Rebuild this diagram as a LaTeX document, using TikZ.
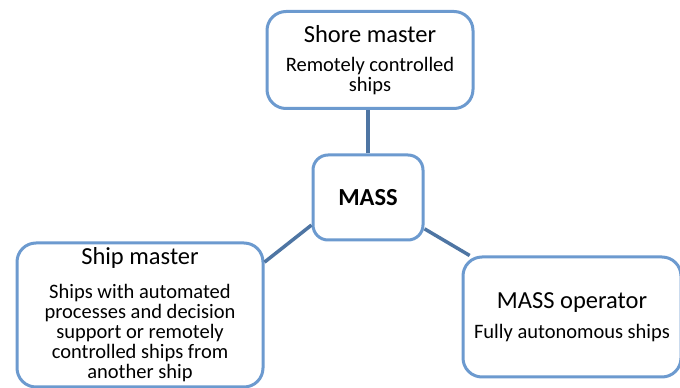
\documentclass[tikz,border=0pt]{standalone}
\usepackage{fontspec}
\setmainfont{Carlito}
\usepackage{tikz}
\usetikzlibrary{positioning,calc}

\definecolor{boxblue}{RGB}{108,154,207}
\definecolor{linkblue}{RGB}{78,117,163}
\newcommand{\hd}{\fontsize{24.5}{30}\selectfont}
\newcommand{\bd}{\fontsize{20.5}{20}\selectfont}

\begin{document}
\begin{tikzpicture}[x=1pt,y=1pt,
  box/.style={draw=boxblue,line width=3pt,rounded corners=19pt,fill=white,
    align=center,inner sep=0pt,font=\bd},
  link/.style={draw=linkblue,line width=3.5pt}]
  \useasboundingbox (0,0) rectangle (680,388);
  \clip (0,0) rectangle (680,388);
  % roles
  \node[box,minimum width=206pt,minimum height=97pt] (shore) at (370,328)
    {\hd Shore master\\[9pt]Remotely controlled\\ships};
  \node[box,minimum width=246pt,minimum height=144pt] (ship) at (140,73)
    {\hd Ship master\\[14pt]Ships with automated\\processes and decision\\support or remotely\\controlled ships from\\another ship};
  \node[box,minimum width=218pt,minimum height=120pt] (op) at (572,71)
    {\hd MASS operator\\[10pt]Fully autonomous ships};
  % centre
  \node[box,rounded corners=15pt,minimum width=110pt,minimum height=85pt] (mass) at (368,190.5)
    {\hd\bfseries MASS};
  % links
  \draw[link] (mass.north) -- (mass.north |- shore.south);
  \draw[link] (mass.206) -- (ship.23);
  \draw[link] (mass.331) -- (op.149);
\end{tikzpicture}
\end{document}
